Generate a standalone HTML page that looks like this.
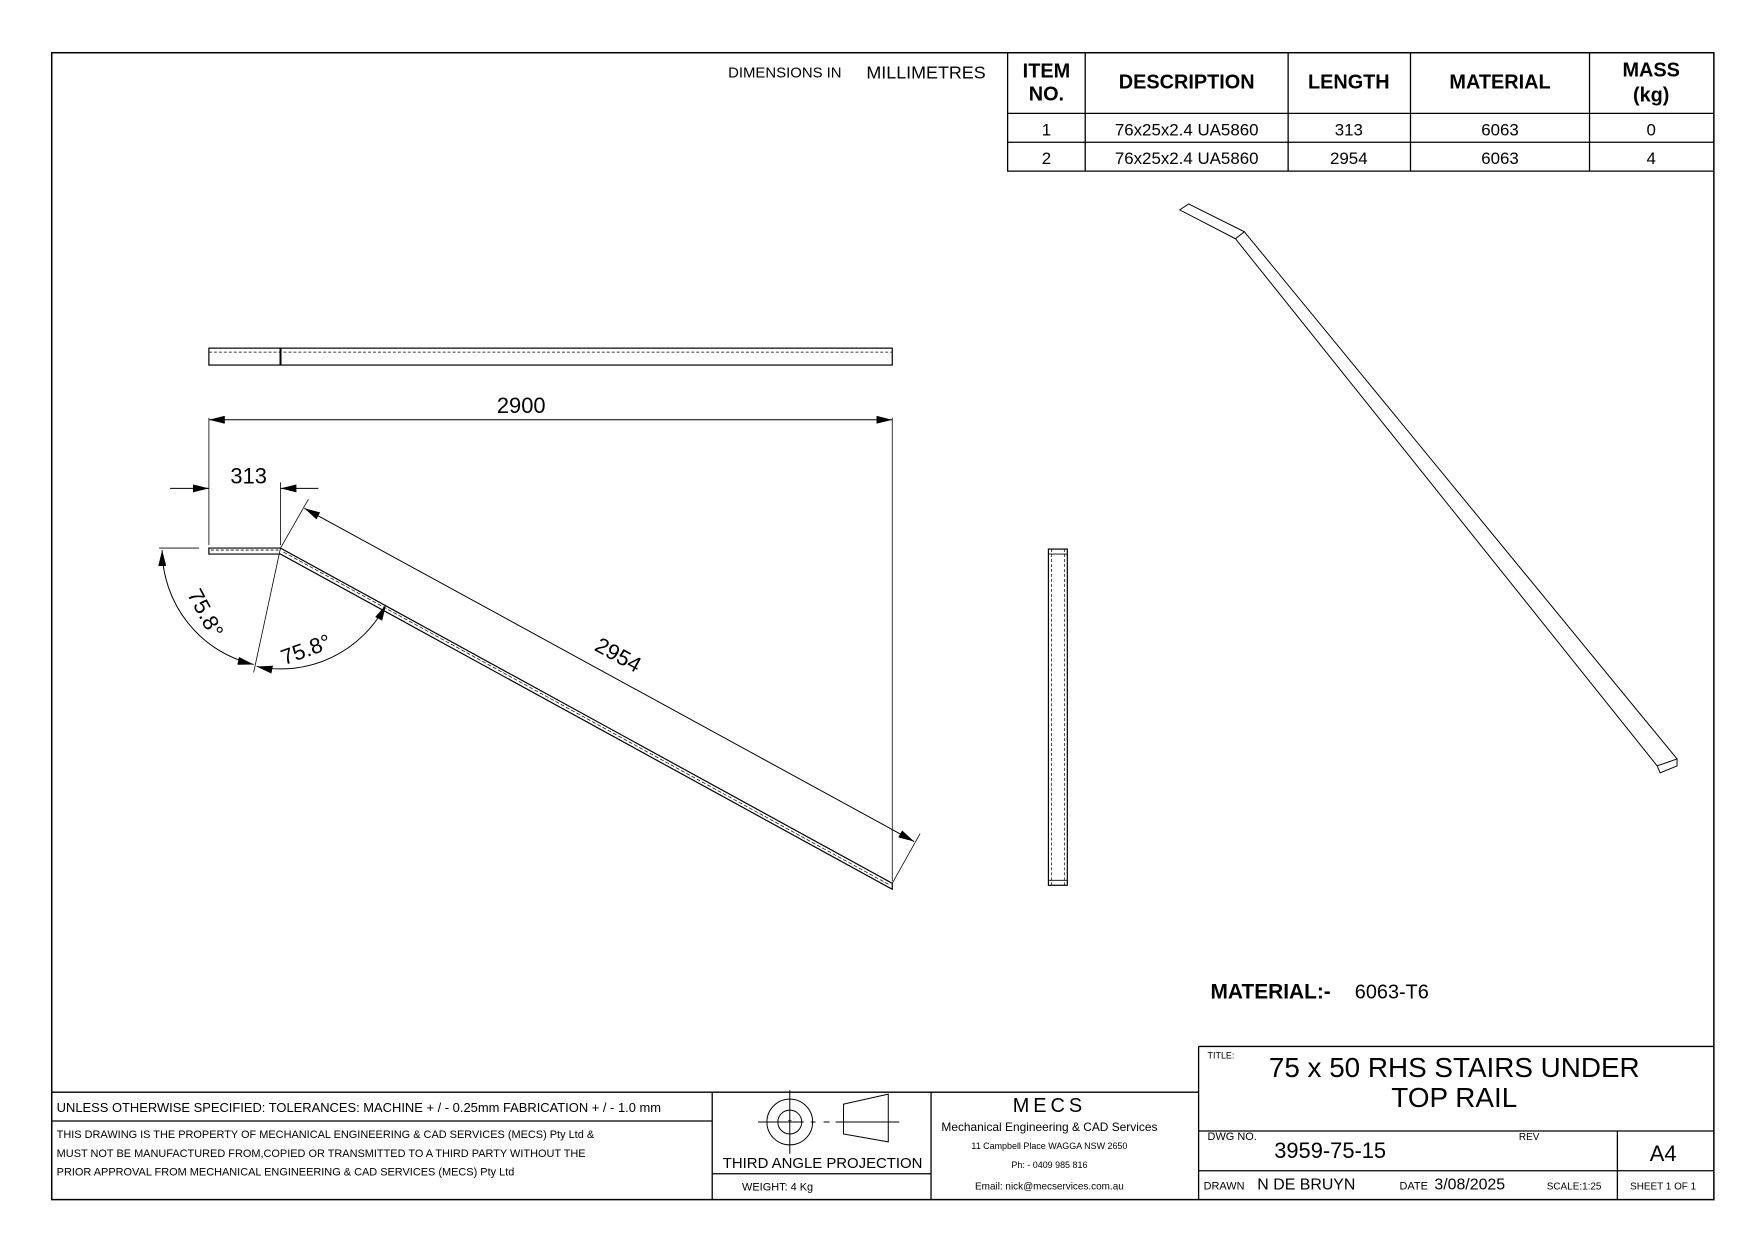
<!DOCTYPE html>
<html><head><meta charset="utf-8"><style>
html,body{margin:0;padding:0;background:#fff}
svg{display:block}
text{font-family:"Liberation Sans",sans-serif;fill:#000}
</style></head><body>
<svg width="1753" height="1240" viewBox="0 0 1753 1240" xmlns="http://www.w3.org/2000/svg">
<defs>
<marker id="ar" viewBox="0 0 12 6" refX="12" refY="3" markerWidth="16" markerHeight="8" orient="auto-start-reverse" markerUnits="userSpaceOnUse"><path d="M0,0 L12,3 L0,6 z" fill="#000"/></marker>
</defs>
<g transform="scale(0.9947)">
<g fill="none" stroke="#000">
<rect x="52" y="53" width="1671" height="1153" stroke-width="1.5"/>
<path d="M1013,53 V172 H1723 M1013,114 H1723 M1013,143 H1723 M1091,53 V172 M1295,53 V172 M1418,53 V172 M1598,53 V172" stroke-width="1.3"/>
<rect x="210" y="350" width="687" height="17" stroke-width="1.2"/>
<line x1="210" y1="354" x2="897" y2="354" stroke-dasharray="3,2" stroke-width="0.8"/>
<line x1="282" y1="350" x2="282" y2="367" stroke-width="2"/>
<line x1="210" y1="422" x2="897" y2="422" stroke-width="1" marker-start="url(#ar)" marker-end="url(#ar)"/>
<line x1="210" y1="420" x2="210" y2="548" stroke-width="0.8"/>
<line x1="897" y1="420" x2="897" y2="886" stroke-width="0.8"/>
<line x1="171" y1="491" x2="210" y2="491" stroke-width="1" marker-end="url(#ar)"/>
<line x1="320" y1="491" x2="282" y2="491" stroke-width="1" marker-end="url(#ar)"/>
<line x1="282" y1="485" x2="282" y2="548" stroke-width="0.8"/>
<path d="M210,551 H282 L897,888 V894 L282,557 H210 Z" stroke-width="1.2"/>
<line x1="212" y1="553" x2="280" y2="553" stroke-dasharray="3,2" stroke-width="0.8"/>
<line x1="285" y1="555" x2="895" y2="890" stroke-dasharray="4,2" stroke-width="0.7"/>
<line x1="282" y1="551" x2="310" y2="502" stroke-width="0.8"/>
<line x1="897" y1="888" x2="925" y2="838" stroke-width="0.8"/>
<line x1="306" y1="511" x2="919" y2="846" stroke-width="1" marker-start="url(#ar)" marker-end="url(#ar)"/>
<line x1="160" y1="551" x2="200" y2="551" stroke-width="0.8"/>
<line x1="282" y1="551" x2="255" y2="676" stroke-width="0.8"/>
<path d="M163,553 A119,119 0 0 0 255,668" stroke-width="1" marker-start="url(#ar)" marker-end="url(#ar)"/>
<path d="M258,670 A119,119 0 0 0 388,608" stroke-width="1" marker-start="url(#ar)" marker-end="url(#ar)"/>
<rect x="1054" y="552" width="19" height="338" stroke-width="1.2"/>
<line x1="1057" y1="552" x2="1057" y2="890" stroke-dasharray="3,2" stroke-width="0.7"/>
<line x1="1070" y1="552" x2="1070" y2="890" stroke-dasharray="3,2" stroke-width="0.7"/>
<line x1="1054" y1="557" x2="1073" y2="557" stroke-width="0.8"/>
<line x1="1054" y1="885" x2="1073" y2="885" stroke-width="0.8"/>
<path d="M1186,211 L1195,205 L1251,233 L1242,240 Z M1242,240 L1666,770 M1251,233 L1686,763 M1686,763 L1686,770 L1669,777 L1666,770 Z" stroke-width="1"/>
<path d="M1205,1052 H1723 M1205,1052 V1206 M52,1098 H1205 M52,1127 H716 M716,1098 V1206 M936,1098 V1206 M716,1180 H936 M1205,1137 H1723 M1205,1177 H1723 M1626,1137 V1206" stroke-width="1.3"/>
<circle cx="794" cy="1128" r="23" stroke-width="1"/>
<circle cx="794" cy="1128" r="12" stroke-width="1"/>
<path d="M762,1128 H808 M794,1096 V1160 M815,1128 H820 M828,1128 H834 M840,1128 H904 M848,1110 V1140 L893,1148 V1100 Z" stroke-width="1"/>
</g>
<text x="794" y="1132" font-size="10" text-anchor="middle">*</text>
<text x="732" y="78" font-size="15">DIMENSIONS IN</text>
<text x="871" y="79" font-size="18">MILLIMETRES</text>
<g font-weight="bold" font-size="20" text-anchor="middle">
<text x="1052" y="78">ITEM</text><text x="1052" y="101">NO.</text>
<text x="1193" y="89">DESCRIPTION</text>
<text x="1356" y="89">LENGTH</text>
<text x="1508" y="89">MATERIAL</text>
<text x="1660" y="77">MASS</text><text x="1660" y="102">(kg)</text>
</g>
<g font-size="17" text-anchor="middle">
<text x="1052" y="136">1</text><text x="1193" y="136">76x25x2.4 UA5860</text><text x="1356" y="136">313</text><text x="1508" y="136">6063</text><text x="1660" y="136">0</text>
<text x="1052" y="165">2</text><text x="1193" y="165">76x25x2.4 UA5860</text><text x="1356" y="165">2954</text><text x="1508" y="165">6063</text><text x="1660" y="165">4</text>
</g>
<text x="524" y="415" font-size="22" text-anchor="middle">2900</text>
<text x="250" y="486" font-size="22" text-anchor="middle">313</text>
<text x="618" y="665" font-size="22" text-anchor="middle" transform="rotate(28.7 618 665)">2954</text>
<text x="200" y="620" font-size="22" text-anchor="middle" transform="rotate(62 200 620)">75.8°</text>
<text x="310" y="660" font-size="22" text-anchor="middle" transform="rotate(-20 310 660)">75.8°</text>
<text x="1217" y="1004" font-size="21" font-weight="bold">MATERIAL:-</text>
<text x="1362" y="1004" font-size="20">6063-T6</text>
<text x="1214" y="1064" font-size="9">TITLE:</text>
<text x="1462" y="1083" font-size="28" text-anchor="middle">75 x 50 RHS STAIRS UNDER</text>
<text x="1462" y="1113" font-size="28" text-anchor="middle">TOP RAIL</text>
<text x="1214" y="1146" font-size="11">DWG NO.</text>
<text x="1281" y="1164" font-size="22">3959-75-15</text>
<text x="1527" y="1146" font-size="10">REV</text>
<text x="1672" y="1167" font-size="22" text-anchor="middle">A4</text>
<text x="1210" y="1196" font-size="11">DRAWN</text>
<text x="1264" y="1196" font-size="16">N DE BRUYN</text>
<text x="1407" y="1196" font-size="11">DATE</text>
<text x="1442" y="1196" font-size="16">3/08/2025</text>
<text x="1555" y="1196" font-size="10">SCALE:1:25</text>
<text x="1672" y="1196" font-size="10" text-anchor="middle">SHEET 1 OF 1</text>
<text x="57" y="1118" font-size="13">UNLESS OTHERWISE SPECIFIED: TOLERANCES: MACHINE + / - 0.25mm  FABRICATION + / - 1.0 mm</text>
<text x="57" y="1144" font-size="11">THIS DRAWING IS THE PROPERTY OF MECHANICAL ENGINEERING &amp; CAD SERVICES (MECS) Pty Ltd &amp;</text>
<text x="57" y="1163" font-size="11">MUST NOT BE MANUFACTURED FROM,COPIED OR TRANSMITTED TO A THIRD PARTY WITHOUT THE</text>
<text x="57" y="1182" font-size="11">PRIOR APPROVAL FROM MECHANICAL ENGINEERING &amp; CAD SERVICES (MECS) Pty Ltd</text>
<text x="827" y="1174" font-size="15" text-anchor="middle">THIRD ANGLE PROJECTION</text>
<text x="746" y="1197" font-size="11">WEIGHT:  4 Kg</text>
<text x="1055" y="1118" font-size="20" text-anchor="middle" letter-spacing="4">MECS</text>
<text x="1055" y="1137" font-size="12" text-anchor="middle">Mechanical Engineering &amp; CAD Services</text>
<text x="1055" y="1155" font-size="9" text-anchor="middle">11 Campbell Place WAGGA NSW 2650</text>
<text x="1055" y="1174" font-size="9" text-anchor="middle">Ph: - 0409 985 816</text>
<text x="1055" y="1196" font-size="10" text-anchor="middle">Email: nick@mecservices.com.au</text>
</g>
</svg>
</body></html>
